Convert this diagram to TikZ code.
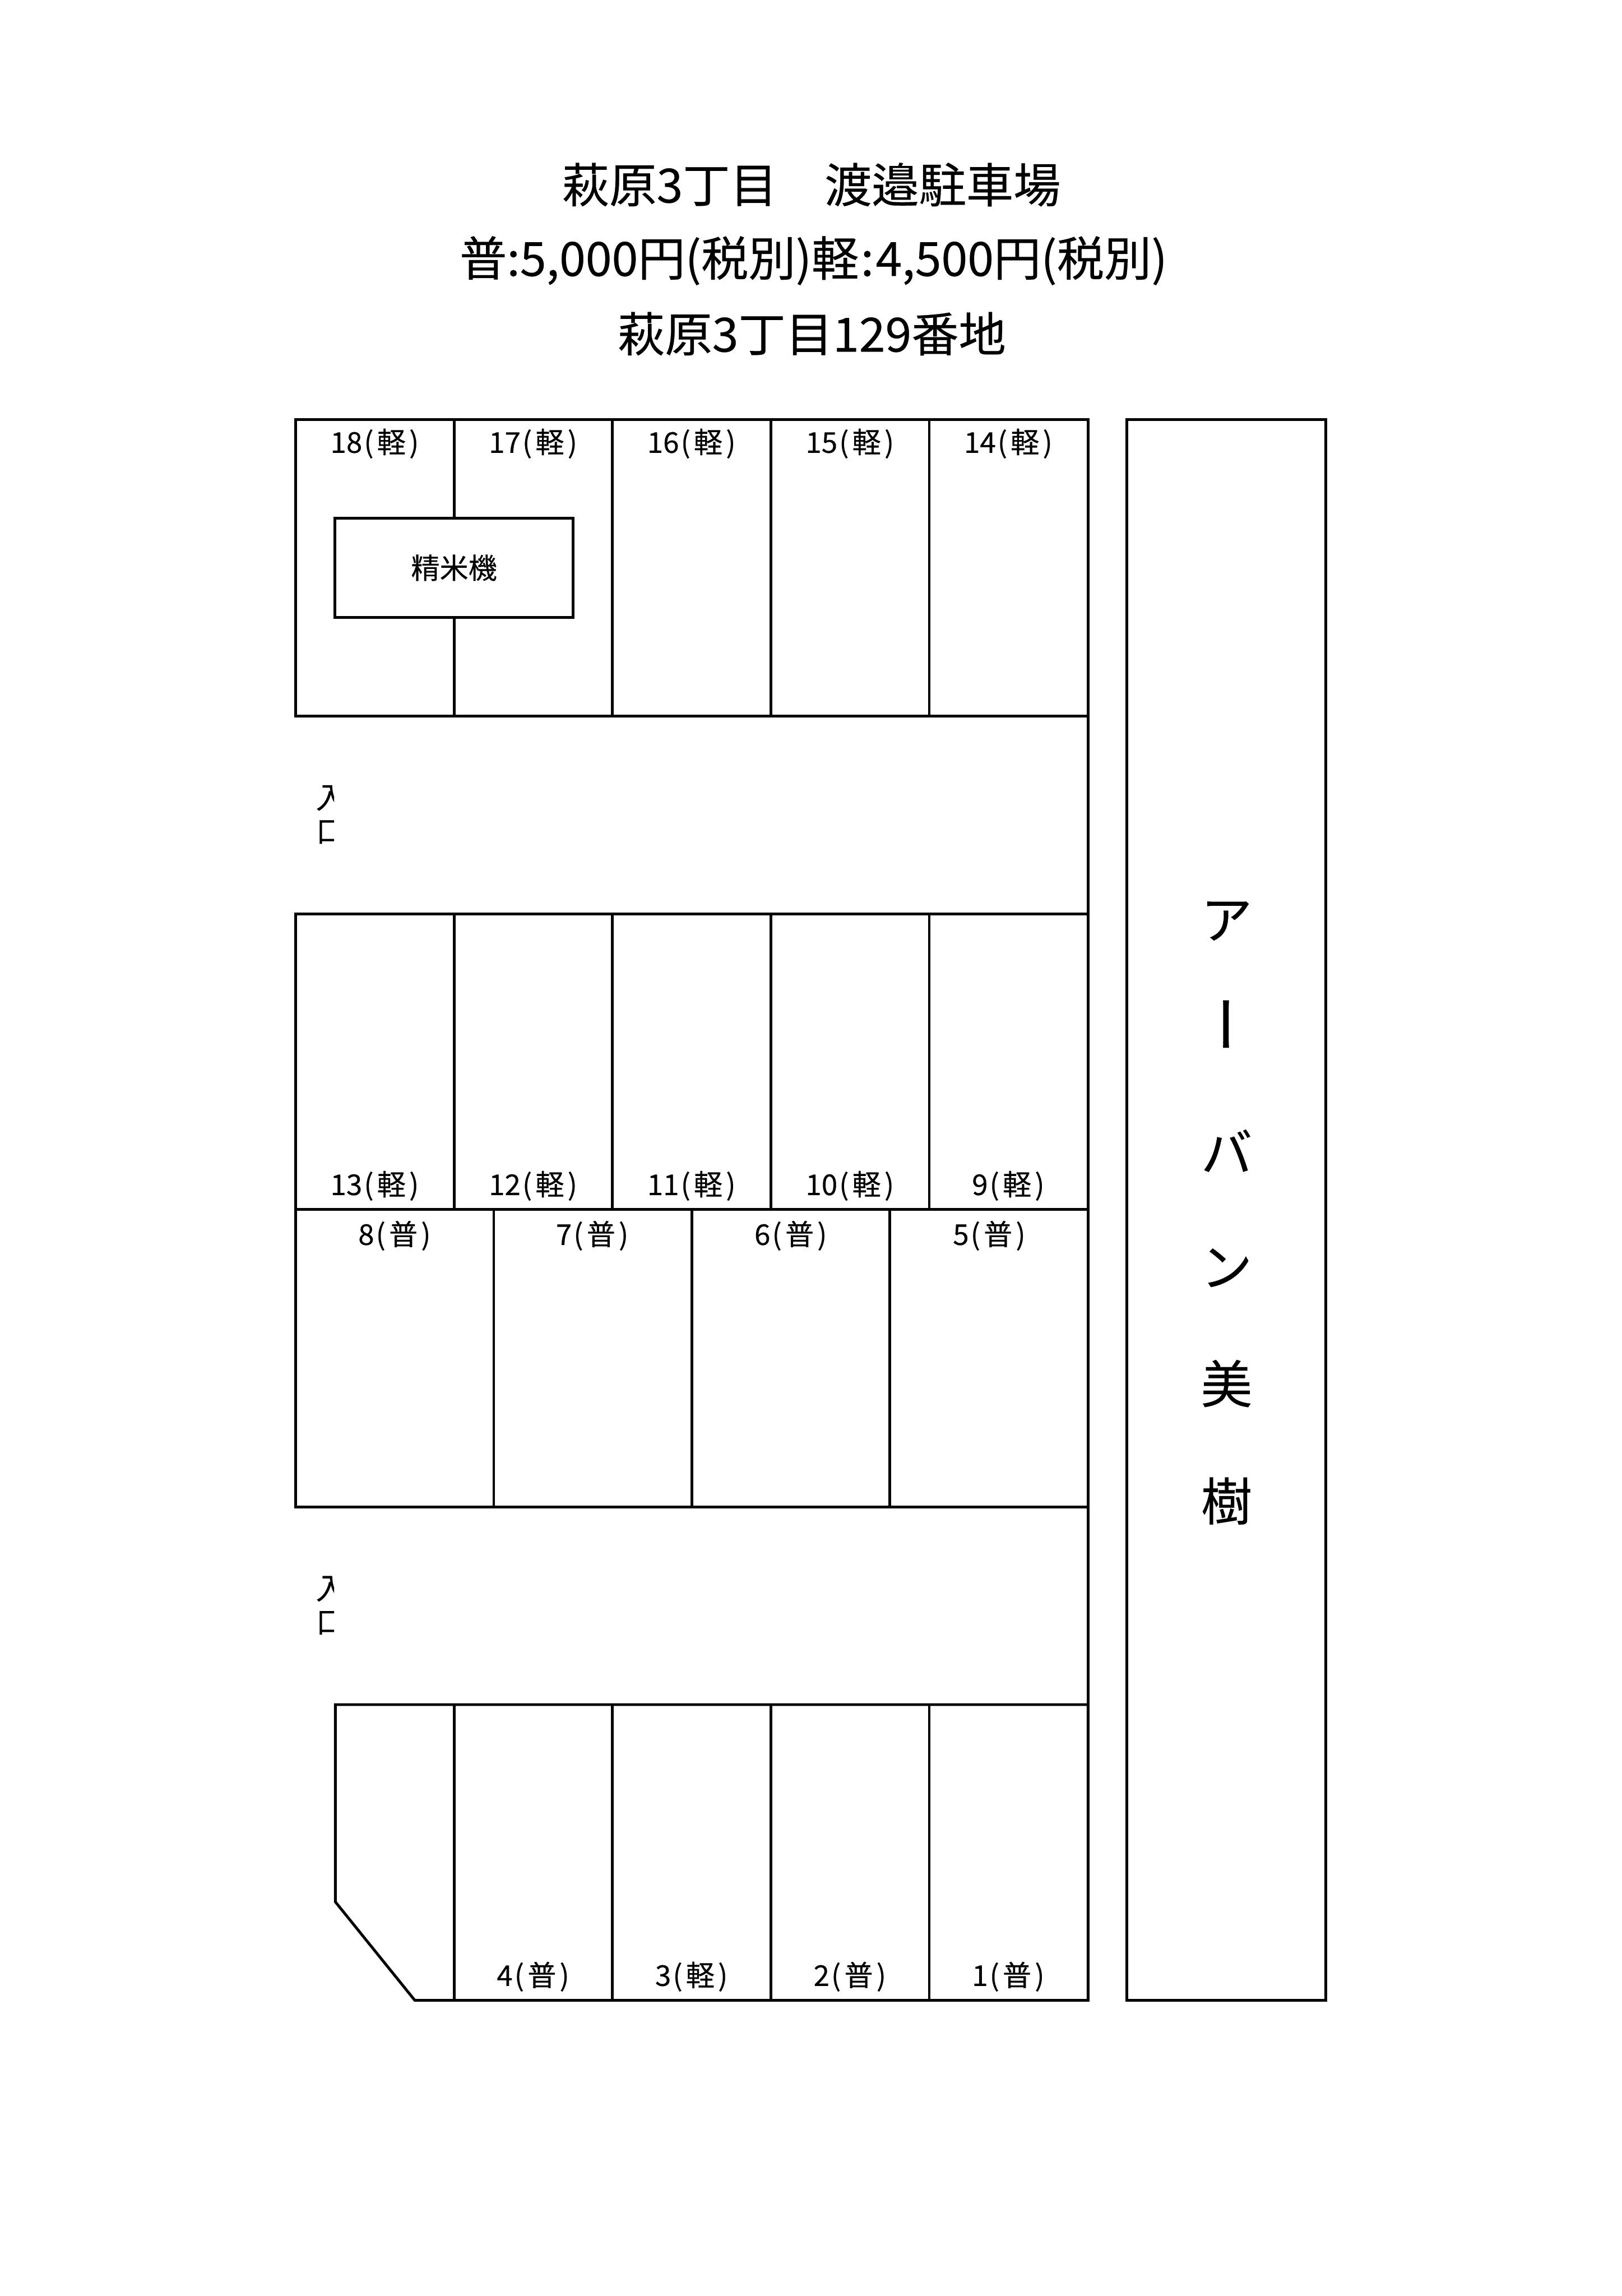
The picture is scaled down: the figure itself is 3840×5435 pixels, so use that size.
\documentclass[tikz,border=0pt]{standalone}
\usepackage{fontspec}
\newfontfamily\cjk[FakeBold=0.3]{Noto Sans CJK JP}
\usetikzlibrary{positioning}
\newcommand{\baytext}[2]{#1\kern.06em(\kern.12em#2\kern.12em)}
\tikzset{
  lot/.style={line width=1.85pt},
  baylabel/.style={font=\cjk\fontsize{19.3}{19}\selectfont,inner sep=0pt},
  titlelabel/.style={font=\cjk\fontsize{31.8}{31}\selectfont,inner sep=0pt},
  shoplabel/.style={font=\cjk\fontsize{34.5}{33}\selectfont,inner sep=0pt},
  barlabel/.style={font=\cjk\fontsize{40}{40}\selectfont,inner sep=0pt},
  gatelabel/.style={font=\cjk\fontsize{20}{20}\selectfont,inner sep=0pt}
}
\begin{document}
\begin{tikzpicture}[x=0.01cm,y=-0.01cm]
        \useasboundingbox (0,0) rectangle (3840,5435);
        \node[titlelabel] (title) at (1921,437) {萩原3丁目　渡邉駐車場};
        \node[titlelabel] (price) at (1926,617) {普:5,000円(税別)軽\kern.04em:\kern.04em4,500円(税別)};
        \node[titlelabel] (addr) at (1922,790) {萩原3丁目129番地};
        % top block
        \draw[lot] (700,993) rectangle (2576,1695);
        \foreach \x in {1075,1450,1825,2200}
            \draw[lot] (\x,993) -- (\x,1695);
        \foreach \n/\x in {18/887,17/1262,16/1637,15/2012,14/2387}
            \node[baylabel] (bay\n) at (\x,1050) {\baytext{\n}{軽}};
        \node[draw,lot,fill=white,minimum width=5.64cm,minimum height=2.34cm,baylabel] (mill) at (1075,1344) {精米機};
        % middle block
        \draw[lot] (700,2163) rectangle (2576,3567);
        \draw[lot] (700,2863) -- (2576,2863);
        \foreach \x in {1075,1450,1825,2200}
            \draw[lot] (\x,2163) -- (\x,2863);
        \foreach \x in {1169,1638,2106}
            \draw[lot] (\x,2863) -- (\x,3567);
        \foreach \n/\x in {13/887,12/1262,11/1637,10/2012,9/2387}
            \node[baylabel] (bay\n) at (\x,2807) {\baytext{\n}{軽}};
        \foreach \n/\x in {8/934,7/1402,6/1872,5/2342}
            \node[baylabel] (bay\n) at (\x,2925) {\baytext{\n}{普}};
        % bottom block
        \coordinate (P1) at (794,4035);
        \coordinate (P2) at (794,4502);
        \coordinate (P3) at (982,4735);
        \coordinate (P4) at (2576,4735);
        \coordinate (P5) at (2576,4035);
        \draw[lot] (P1) -- (P2) -- (P3) -- (P4) -- (P5) -- cycle;
        \foreach \x in {1075,1450,1825,2200}
            \draw[lot] (\x,4035) -- (\x,4735);
        \foreach \n/\t/\x in {4/普/1262,3/軽/1637,2/普/2012,1/普/2387}
            \node[baylabel] (bay\n) at (\x,4679) {\baytext{\n}{\t}};
        \draw[lot] (2576,1695) -- (2576,2163);
        \draw[lot] (2576,3567) -- (2576,4035);
        % entrances
        \foreach \i/\y in {a/0,b/1872}{
            \begin{scope}
                \clip (700,1830+\y) rectangle (791,2010+\y);
                \node[gatelabel] (in\i) at (783,1889+\y) {入};
                \node[gatelabel,below=6pt of in\i] (mouth\i) {口};
            \end{scope}
        }
        % shop
        \draw[lot] (2668,993) rectangle (3139,4735);
        \foreach \c/\y in {ア/2180,バ/2724,ン/3001,美/3275,樹/3553}
            \node[shoplabel] at (2904,\y) {\c};
        \node[barlabel,rotate=90] (bar) at (2926,2424) {ー};
\end{tikzpicture}
\end{document}
